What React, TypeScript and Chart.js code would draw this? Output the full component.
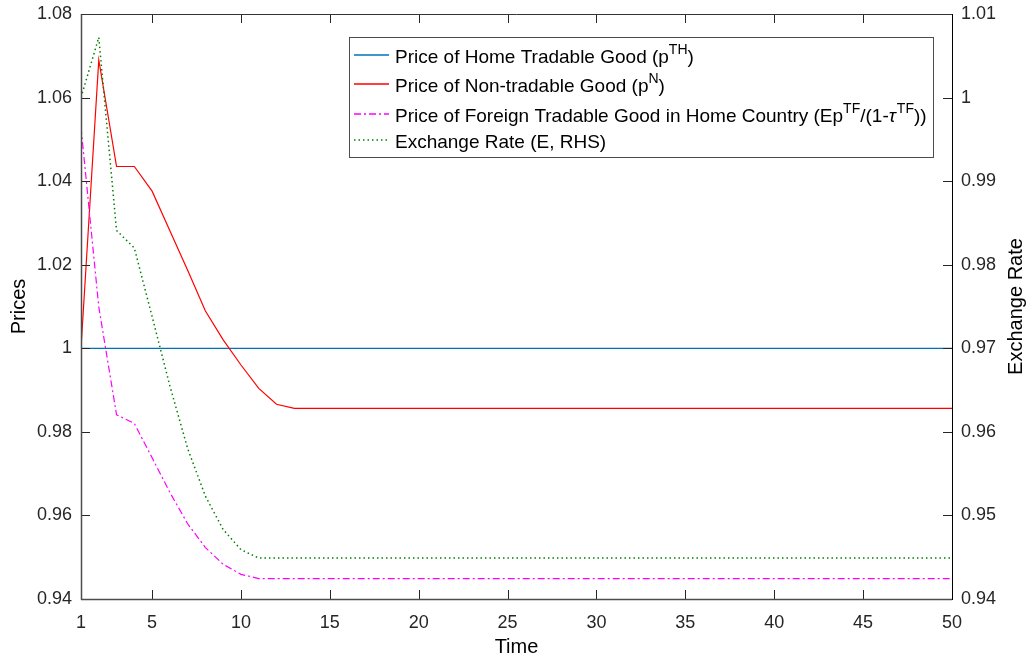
import React, { useEffect, useRef } from "react";
import { Chart, registerables } from "chart.js";

Chart.register(...registerables);

const FONT = '"Liberation Sans", Arial, Helvetica, sans-serif';
const TEXT = "#262626";

// Time periods
const time = [
  1, 2, 3, 4, 5, 6, 7, 8, 9, 10, 11, 12, 13, 14, 15, 16, 17, 18, 19, 20, 21, 22, 23, 24, 25,
  26, 27, 28, 29, 30, 31, 32, 33, 34, 35, 36, 37, 38, 39, 40, 41, 42, 43, 44, 45, 46, 47, 48, 49, 50,
];

// Price of home tradable good (left axis)
const homeTradablePrice = [
  1, 1, 1, 1, 1, 1, 1, 1, 1, 1, 1, 1, 1, 1, 1, 1, 1, 1, 1, 1, 1, 1, 1, 1, 1,
  1, 1, 1, 1, 1, 1, 1, 1, 1, 1, 1, 1, 1, 1, 1, 1, 1, 1, 1, 1, 1, 1, 1, 1, 1,
];

// Price of non-tradable good (left axis)
const nonTradablePrice = [
  1.0, 1.069, 1.0435, 1.0435, 1.0376, 1.0281, 1.0187, 1.0089, 1.002, 0.996, 0.9904, 0.9866, 0.9856,
  0.9856, 0.9856, 0.9856, 0.9856, 0.9856, 0.9856, 0.9856, 0.9856, 0.9856, 0.9856, 0.9856, 0.9856,
  0.9856, 0.9856, 0.9856, 0.9856, 0.9856, 0.9856, 0.9856, 0.9856, 0.9856, 0.9856, 0.9856, 0.9856,
  0.9856, 0.9856, 0.9856, 0.9856, 0.9856, 0.9856, 0.9856, 0.9856, 0.9856, 0.9856, 0.9856, 0.9856, 0.9856,
];

// Price of foreign tradable good in home country (left axis)
const foreignTradablePrice = [
  1.0529, 1.0099, 0.9841, 0.982, 0.9738, 0.9655, 0.958, 0.9523, 0.9483, 0.9459, 0.9449, 0.9449,
  0.9449, 0.9449, 0.9449, 0.9449, 0.9449, 0.9449, 0.9449, 0.9449, 0.9449, 0.9449, 0.9449, 0.9449,
  0.9449, 0.9449, 0.9449, 0.9449, 0.9449, 0.9449, 0.9449, 0.9449, 0.9449, 0.9449, 0.9449, 0.9449,
  0.9449, 0.9449, 0.9449, 0.9449, 0.9449, 0.9449, 0.9449, 0.9449, 0.9449, 0.9449, 0.9449, 0.9449,
  0.9449, 0.9449,
];

// Exchange rate (right axis)
const exchangeRate = [
  1.0, 1.0072, 0.9841, 0.982, 0.9738, 0.9655, 0.958, 0.9523, 0.9483, 0.9459, 0.9449, 0.9449,
  0.9449, 0.9449, 0.9449, 0.9449, 0.9449, 0.9449, 0.9449, 0.9449, 0.9449, 0.9449, 0.9449, 0.9449,
  0.9449, 0.9449, 0.9449, 0.9449, 0.9449, 0.9449, 0.9449, 0.9449, 0.9449, 0.9449, 0.9449, 0.9449,
  0.9449, 0.9449, 0.9449, 0.9449, 0.9449, 0.9449, 0.9449, 0.9449, 0.9449, 0.9449, 0.9449, 0.9449,
  0.9449, 0.9449,
];

const timeTicks = [1, 5, 10, 15, 20, 25, 30, 35, 40, 45, 50];
const priceTicks = [0.94, 0.96, 0.98, 1, 1.02, 1.04, 1.06, 1.08];
const priceTickLabels = ["0.94", "0.96", "0.98", "1", "1.02", "1.04", "1.06", "1.08"];
const rateTicks = [0.94, 0.95, 0.96, 0.97, 0.98, 0.99, 1, 1.01];
const rateTickLabels = ["0.94", "0.95", "0.96", "0.97", "0.98", "0.99", "1", "1.01"];

type Seg = { t: string; sup?: boolean; italic?: boolean };

const legendEntries: { color: string; dash: number[]; label: Seg[] }[] = [
  {
    color: "#0072BD",
    dash: [],
    label: [{ t: "Price of Home Tradable Good (p" }, { t: "TH", sup: true }, { t: ")" }],
  },
  {
    color: "#FF0000",
    dash: [],
    label: [{ t: "Price of Non-tradable Good (p" }, { t: "N", sup: true }, { t: ")" }],
  },
  {
    color: "#FF00FF",
    dash: [7, 3, 2, 3],
    label: [
      { t: "Price of Foreign Tradable Good in Home Country (Ep" },
      { t: "TF", sup: true },
      { t: "/(1-" },
      { t: "\u03C4", italic: true },
      { t: "TF", sup: true },
      { t: "))" },
    ],
  },
  {
    color: "#008000",
    dash: [1.5, 3],
    label: [{ t: "Exchange Rate (E, RHS)" }],
  },
];

const pts = (ys: number[]) => time.map((t, i) => ({ x: t, y: ys[i] }));

const framePlugin = {
  id: "frame",
  afterDraw(chart: any) {
    const { ctx, chartArea, scales } = chart;
    const { left, right, top, bottom } = chartArea;
    ctx.save();

    const seg = (x1: number, y1: number, x2: number, y2: number) => {
      ctx.beginPath();
      ctx.moveTo(x1, y1);
      ctx.lineTo(x2, y2);
      ctx.stroke();
    };

    // inward tick marks
    ctx.strokeStyle = TEXT;
    ctx.lineWidth = 1;
    ctx.setLineDash([]);
    timeTicks.forEach((v) => {
      const x = Math.round(scales.x.getPixelForValue(v)) + 0.5;
      seg(x, bottom, x, bottom - 9);
      seg(x, top, x, top + 9);
    });
    priceTicks.forEach((v) => {
      const y = Math.round(scales.y.getPixelForValue(v)) + 0.5;
      seg(left, y, left + 9, y);
    });
    rateTicks.forEach((v) => {
      const y = Math.round(scales.y2.getPixelForValue(v)) + 0.5;
      seg(right - 9, y, right, y);
    });

    // axes box
    ctx.strokeStyle = "#4d4d4d";
    ctx.lineWidth = 1.5;
    seg(left + 0.5, top, left + 0.5, bottom + 0.75);
    seg(left, bottom + 0.5, right, bottom + 0.5);
    ctx.lineWidth = 1;
    ctx.strokeStyle = "#333333";
    seg(left, top + 0.5, right, top + 0.5);
    ctx.strokeStyle = "#000000";
    seg(right + 0.5, top, right + 0.5, bottom + 1);

    // legend
    const lx = 349, ly = 37, lw = 584, lh = 120;
    ctx.fillStyle = "#ffffff";
    ctx.fillRect(lx, ly, lw, lh);
    ctx.strokeStyle = "#4d4d4d";
    ctx.lineWidth = 1;
    ctx.strokeRect(lx + 0.5, ly + 0.5, lw, lh);

    const baselines = [63, 92, 122, 148];
    legendEntries.forEach((entry, i) => {
      const by = baselines[i];
      ctx.strokeStyle = entry.color;
      ctx.lineWidth = 1.3;
      ctx.setLineDash(entry.dash);
      seg(354, by - 8, 389, by - 8);
      ctx.setLineDash([]);
      let x = 395;
      ctx.fillStyle = "#000000";
      ctx.textBaseline = "alphabetic";
      ctx.textAlign = "left";
      entry.label.forEach((s) => {
        const size = s.sup ? 14 : 19;
        ctx.font = `${s.italic ? "italic " : ""}${size}px ${FONT}`;
        ctx.fillText(s.t, x, s.sup ? by - 9 : by);
        x += ctx.measureText(s.t).width + (s.italic ? 1 : 0);
      });
    });

    // axis titles
    ctx.fillStyle = "#000000";
    ctx.font = `20px ${FONT}`;
    ctx.textAlign = "center";
    ctx.textBaseline = "middle";
    ctx.fillText("Time", (left + right) / 2, 647);

    ctx.save();
    ctx.translate(19, (top + bottom) / 2);
    ctx.rotate(-Math.PI / 2);
    ctx.fillText("Prices", 0, 0);
    ctx.restore();

    ctx.save();
    ctx.translate(1016, (top + bottom) / 2);
    ctx.rotate(-Math.PI / 2);
    ctx.fillText("Exchange Rate", 0, 0);
    ctx.restore();

    ctx.restore();
  },
};

export default function App() {
  const canvasRef = useRef<HTMLCanvasElement | null>(null);

  useEffect(() => {
    const canvas = canvasRef.current;
    if (!canvas) return;
    const tickFont = { family: FONT, size: 18 };

    const chart = new Chart(canvas, {
      type: "line",
      data: {
        datasets: [
          {
            label: "Price of Home Tradable Good",
            data: pts(homeTradablePrice),
            borderColor: "#0072BD",
            borderWidth: 1.2,
            pointRadius: 0,
            yAxisID: "y",
            order: 4,
          },
          {
            label: "Price of Non-tradable Good",
            data: pts(nonTradablePrice),
            borderColor: "#FF0000",
            borderWidth: 1.2,
            pointRadius: 0,
            yAxisID: "y",
            order: 3,
          },
          {
            label: "Price of Foreign Tradable Good in Home Country",
            data: pts(foreignTradablePrice),
            borderColor: "#FF00FF",
            borderWidth: 1.2,
            borderDash: [7, 3, 2, 3],
            pointRadius: 0,
            yAxisID: "y",
            order: 2,
          },
          {
            label: "Exchange Rate (E, RHS)",
            data: pts(exchangeRate),
            borderColor: "#008000",
            borderWidth: 1.5,
            borderDash: [1.5, 3],
            pointRadius: 0,
            yAxisID: "y2",
            order: 1,
          },
        ],
      },
      options: {
        responsive: false,
        animation: false,
        devicePixelRatio: 1,
        layout: { padding: { top: 14, left: 0, right: 0, bottom: 0 } },
        plugins: { legend: { display: false }, tooltip: { enabled: false } },
        elements: { line: { tension: 0, fill: false } },
        scales: {
          x: {
            type: "linear",
            min: 1,
            max: 50,
            grid: { display: false, drawTicks: false },
            border: { display: false },
            afterBuildTicks: (s: any) => {
              s.ticks = timeTicks.map((v) => ({ value: v }));
            },
            afterFit: (s: any) => {
              s.height = 63;
              s.paddingLeft = 0;
              s.paddingRight = 0;
            },
            ticks: {
              autoSkip: false,
              maxRotation: 0,
              padding: 13,
              color: TEXT,
              font: tickFont,
              callback: (v: any) => String(v),
            },
          },
          y: {
            type: "linear",
            position: "left",
            min: 0.94,
            max: 1.08,
            grid: { display: false, drawTicks: false },
            border: { display: false },
            afterBuildTicks: (s: any) => {
              s.ticks = priceTicks.map((v) => ({ value: v }));
            },
            afterFit: (s: any) => {
              s.width = 81;
              s.paddingTop = 0;
              s.paddingBottom = 0;
            },
            ticks: {
              autoSkip: false,
              padding: 9,
              color: TEXT,
              font: tickFont,
              callback: (_v: any, i: number) => priceTickLabels[i],
            },
          },
          y2: {
            type: "linear",
            position: "right",
            min: 0.94,
            max: 1.01,
            grid: { display: false, drawTicks: false },
            border: { display: false },
            afterBuildTicks: (s: any) => {
              s.ticks = rateTicks.map((v) => ({ value: v }));
            },
            afterFit: (s: any) => {
              s.width = 80;
              s.paddingTop = 0;
              s.paddingBottom = 0;
            },
            ticks: {
              autoSkip: false,
              padding: 9,
              color: TEXT,
              font: tickFont,
              callback: (_v: any, i: number) => rateTickLabels[i],
            },
          },
        },
      },
      plugins: [framePlugin],
    } as any);

    return () => chart.destroy();
  }, []);

  return (
    <div style={{ position: "absolute", left: 0, top: 0, width: 1032, height: 662, background: "#ffffff" }}>
      <canvas ref={canvasRef} width={1032} height={662} style={{ display: "block" }} />
    </div>
  );
}
